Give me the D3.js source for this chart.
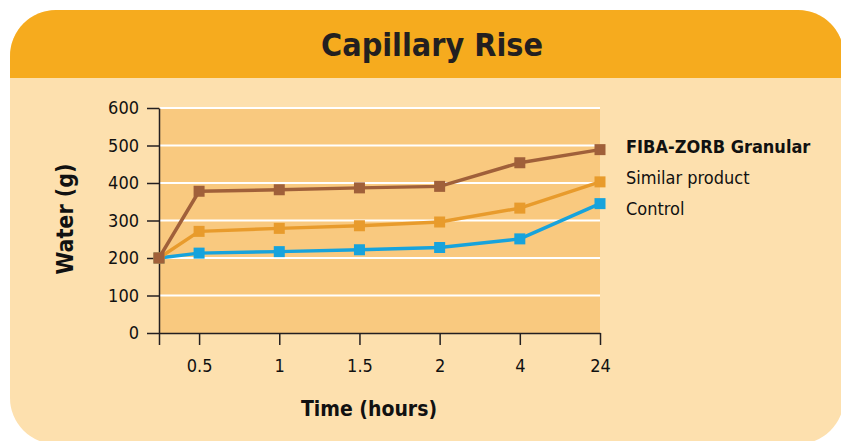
<!doctype html>
<html>
  <head>
    <meta charset="utf-8">
    <title>Capillary Rise</title>
    <script src="https://cdn.jsdelivr.net/npm/d3@7"></script>
    <style>
      body { margin: 0; background: #fff; }
      text { font-family: 'Liberation Sans Narrow', 'DejaVu Sans Condensed', sans-serif; fill: #111; }
    </style>
  </head>
  <body>
    <script>
      const hours = ['0', '0.5', '1', '1.5', '2', '4', '24'];
      const fibaZorb = [200, 378, 382, 387, 391, 454, 489];
      const similar = [200, 271, 279, 286, 296, 333, 403];
      const control = [200, 213, 217, 222, 228, 251, 345];
      const yTicks = [0, 100, 200, 300, 400, 500, 600];
      const seriesNames = ['FIBA-ZORB Granular', 'Similar product', 'Control'];

      const width = 841;
      const height = 441;

      const svg = d3.select('body').append('svg')
          .attr('width', width)
          .attr('height', height);

      // card
      svg.append('clipPath').attr('id', 'card')
        .append('rect')
          .attr('x', 10).attr('y', 10)
          .attr('width', 834).attr('height', 434)
          .attr('rx', 46);
      const card = svg.append('g').attr('clip-path', 'url(#card)');
      card.append('rect')
          .attr('x', 0).attr('y', 0).attr('width', width).attr('height', height)
          .attr('fill', '#fde0ae');
      card.append('rect')
          .attr('x', 0).attr('y', 0).attr('width', width).attr('height', 78)
          .attr('fill', '#f6ab1e');

      svg.append('text')
          .attr('x', 432).attr('y', 56)
          .attr('text-anchor', 'middle')
          .attr('font-size', '32px')
          .attr('font-weight', 'bold')
          .style('fill', '#231f20')
          .text('Capillary Rise');

      // 比例尺: first slot only half a step wide
      const slot = i => i === 0 ? 0 : i - 0.5;
      const x = d3.scaleLinear().domain([0, hours.length - 1.5]).range([159, 600]);
      const y = d3.scaleLinear().domain([0, 600]).range([333, 108]);

      svg.append('rect')
          .attr('x', x(0)).attr('y', y(600))
          .attr('width', x(hours.length - 1.5) - x(0))
          .attr('height', y(0) - y(600))
          .attr('fill', '#f9c97f');

      svg.append('g')
        .selectAll('line')
        .data(yTicks.filter(d => d > 0))
        .enter().append('line')
          .attr('x1', x(0) + 1).attr('x2', x(hours.length - 1.5))
          .attr('y1', d => y(d)).attr('y2', d => y(d))
          .attr('stroke', '#fff')
          .attr('stroke-width', 2);

      // axes
      const yAxis = svg.append('g')
          .attr('transform', `translate(${x(0)},0)`)
          .call(d3.axisLeft(y).tickValues(yTicks).tickSize(12).tickSizeOuter(0).tickPadding(8));
      const xAxis = svg.append('g')
          .attr('transform', `translate(0,${y(0)})`)
          .call(d3.axisBottom(x)
            .tickValues(hours.map((d, i) => slot(i)))
            .tickFormat((d, i) => i === 0 ? '' : hours[i])
            .tickSize(12).tickSizeOuter(0).tickPadding(14));
      [yAxis, xAxis].forEach(g => {
        g.attr('font-family', null);
        g.selectAll('path, line').attr('stroke', '#231f20').attr('stroke-width', 1.5);
        g.selectAll('text').attr('font-size', '18px');
      });

      svg.append('text')
          .attr('transform', 'translate(73,219) rotate(-90)')
          .attr('text-anchor', 'middle')
          .attr('font-size', '23px')
          .attr('font-weight', 'bold')
          .text('Water (g)');
      svg.append('text')
          .attr('x', 369).attr('y', 416)
          .attr('text-anchor', 'middle')
          .attr('font-size', '21px')
          .attr('font-weight', 'bold')
          .text('Time (hours)');

      // 绘制折线
      const series = [
        { name: seriesNames[2], values: control, color: '#17a3dc' },
        { name: seriesNames[1], values: similar, color: '#e89b2c' },
        { name: seriesNames[0], values: fibaZorb, color: '#a0603a' }
      ];
      const line = d3.line()
          .x((d, i) => x(slot(i)))
          .y(d => y(d));

      const gSeries = svg.append('g')
        .selectAll('g')
        .data(series)
        .enter().append('g');
      gSeries.append('path')
          .attr('d', d => line(d.values))
          .attr('fill', 'none')
          .attr('stroke', d => d.color)
          .attr('stroke-width', 3.5)
          .attr('stroke-linejoin', 'round');
      gSeries.each(function(s) {
        d3.select(this).selectAll('rect')
          .data(s.values)
          .enter().append('rect')
            .attr('x', (d, i) => x(slot(i)) - 5.5)
            .attr('y', d => y(d) - 5.5)
            .attr('width', 11).attr('height', 11)
            .attr('fill', s.color);
      });

      // legend
      svg.append('g')
        .selectAll('text')
        .data(seriesNames)
        .enter().append('text')
          .attr('x', 626)
          .attr('y', (d, i) => 153 + i * 31)
          .attr('font-size', '18px')
          .attr('font-weight', (d, i) => i === 0 ? 'bold' : 'normal')
          .text(d => d);
    </script>
  </body>
</html>
